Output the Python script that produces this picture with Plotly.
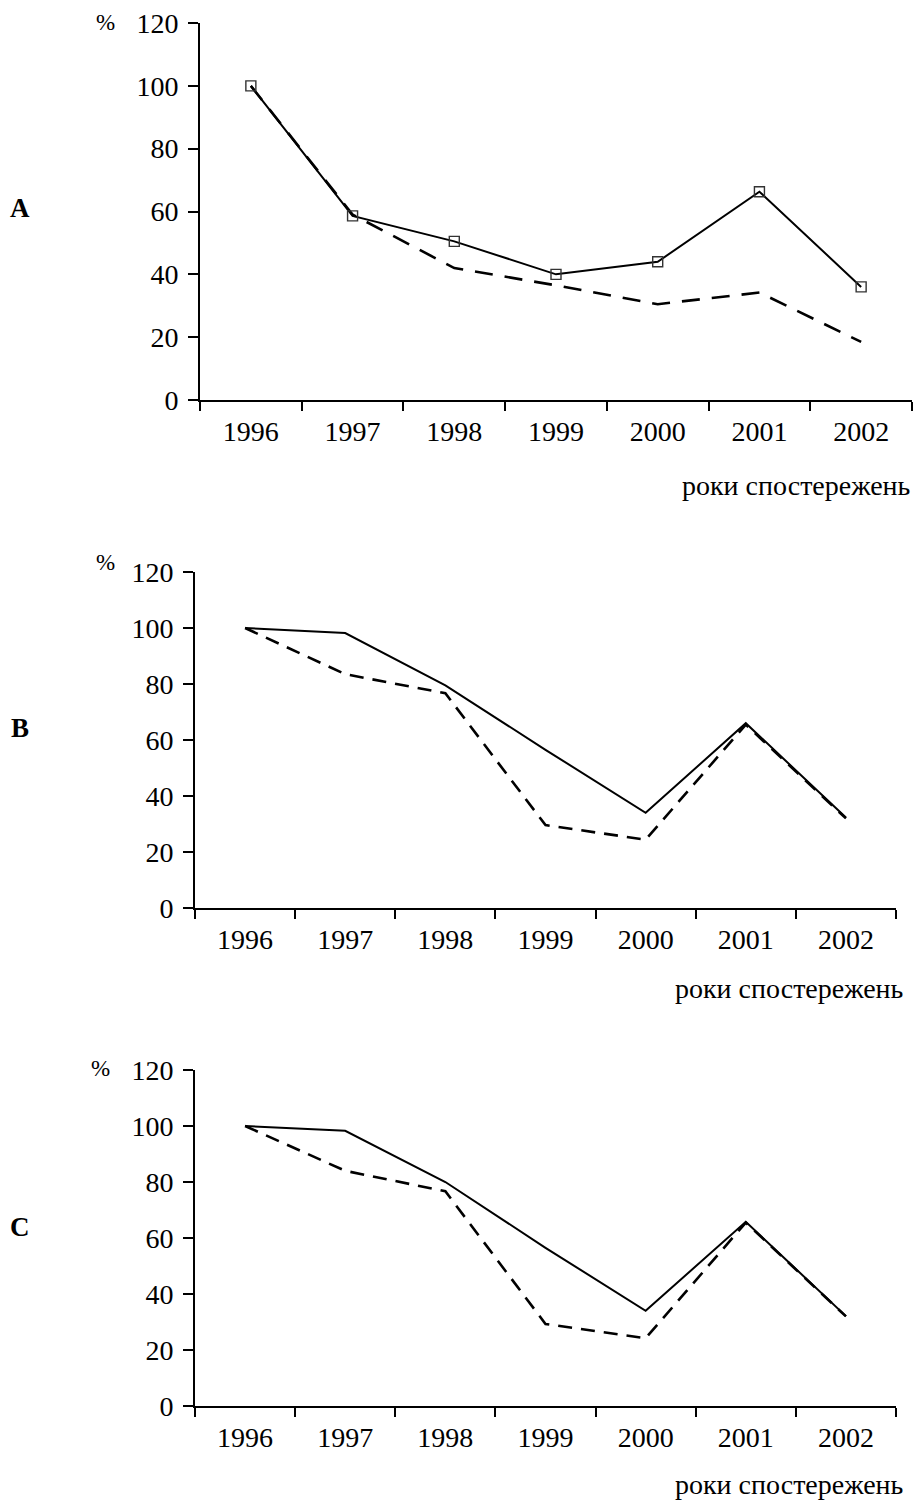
import plotly.graph_objects as go

W, H = 920, 1504
years = ["1996", "1997", "1998", "1999", "2000", "2001", "2002"]

a_solid = [100, 58.6, 50.5, 40, 44, 66.3, 36]
a_dashed = [100, 59, 42, 36.5, 30.5, 34.2, 18.5]
b_solid = [100, 98.2, 79.5, 56.5, 34, 66, 32.3]
b_dashed = [100, 83.5, 76.7, 29.6, 24.4, 65.5, 32]
c_solid = [100, 98.3, 80, 56.5, 34, 65.8, 32.1]
c_dashed = [100, 84, 76.7, 29.3, 24.2, 65.5, 32]

y_ticks = [0, 20, 40, 60, 80, 100, 120]
panel_labels = ["A", "B", "C"]
x_title = "роки спостережень"
y_unit = "%"

FONT = "Liberation Serif, Times New Roman, serif"


def px(x):
    return x / W


def py(y):
    return 1 - y / H


# panel geometry in pixels: (x_left, x_right, y_top(120), y_bottom(0))
panels = [
    (200, 912, 23, 400),
    (195, 896, 572, 908),
    (195, 896, 1070, 1406),
]
dash_styles = ["18px,12px", "14px,9px", "14px,9px"]
series = [(a_solid, a_dashed), (b_solid, b_dashed), (c_solid, c_dashed)]

fig = go.Figure()

for i, ((xl, xr, yt, yb), (s, d), dsh) in enumerate(zip(panels, series, dash_styles)):
    n = i + 1
    xa = "x" if n == 1 else f"x{n}"
    ya = "y" if n == 1 else f"y{n}"
    fig.add_trace(go.Scatter(
        x=years, y=d, mode="lines", xaxis=xa, yaxis=ya,
        line=dict(color="black", width=2.6, dash=dsh), showlegend=False))
    if n == 1:
        fig.add_trace(go.Scatter(
            x=years, y=s, mode="lines+markers", xaxis=xa, yaxis=ya,
            line=dict(color="black", width=2),
            marker=dict(symbol="square-open", size=10, color="#333",
                        line=dict(width=1.4, color="#333")),
            showlegend=False))
    else:
        fig.add_trace(go.Scatter(
            x=years, y=s, mode="lines", xaxis=xa, yaxis=ya,
            line=dict(color="black", width=2), showlegend=False))

    xkey = "xaxis" if n == 1 else f"xaxis{n}"
    ykey = "yaxis" if n == 1 else f"yaxis{n}"
    fig.update_layout(**{
        xkey: dict(
            domain=[px(xl), px(xr)], anchor=ya, type="category",
            categoryorder="array", categoryarray=years,
            range=[-0.5, 6.5], tickson="boundaries",
            showline=True, linecolor="black", linewidth=1.6,
            ticks="outside", ticklen=9, tickwidth=1.6, tickcolor="black",
            showgrid=False, zeroline=False, automargin=False,
            tickfont=dict(family=FONT, size=28, color="black"),
            ticklabelstandoff=6,
        ),
        ykey: dict(
            domain=[py(yb), py(yt)], anchor=xa, range=[0, 120],
            tickvals=y_ticks, ticktext=[str(v) for v in y_ticks],
            showline=True, linecolor="black", linewidth=1.6,
            ticks="outside", ticklen=10, tickwidth=1.6, tickcolor="black",
            showgrid=False, zeroline=False, automargin=False,
            tickfont=dict(family=FONT, size=28, color="black"),
            ticklabelstandoff=4,
        ),
    })

annotations = []
label_pos = [(20, 208), (20, 728), (20, 1227)]
pct_pos = [(105, 22), (105, 562), (100, 1068)]
title_pos = [(912, 485), (905, 988), (905, 1484)]
for lab, (lx, ly), (qx, qy), (tx, ty) in zip(panel_labels, label_pos, pct_pos, title_pos):
    annotations.append(dict(text=f"<b>{lab}</b>", x=px(lx), y=py(ly), xref="paper", yref="paper",
                            xanchor="center", yanchor="middle", showarrow=False,
                            font=dict(family=FONT, size=27, color="black")))
    annotations.append(dict(text=y_unit, x=px(qx), y=py(qy), xref="paper", yref="paper",
                            xanchor="center", yanchor="middle", showarrow=False,
                            font=dict(family=FONT, size=23, color="black")))
    annotations.append(dict(text=x_title, x=px(tx), y=py(ty), xref="paper", yref="paper",
                            xanchor="right", yanchor="middle", showarrow=False,
                            font=dict(family=FONT, size=28, color="black")))

fig.update_layout(
    template="none",
    width=W, height=H,
    margin=dict(l=0, r=0, t=0, b=0, pad=0),
    paper_bgcolor="white", plot_bgcolor="white",
    annotations=annotations,
    font=dict(family=FONT, color="black"),
)

fig.write_html(
    "out.html",
    config={"displayModeBar": False},
    post_script="document.body.style.margin='0';document.body.style.padding='0';",
)
